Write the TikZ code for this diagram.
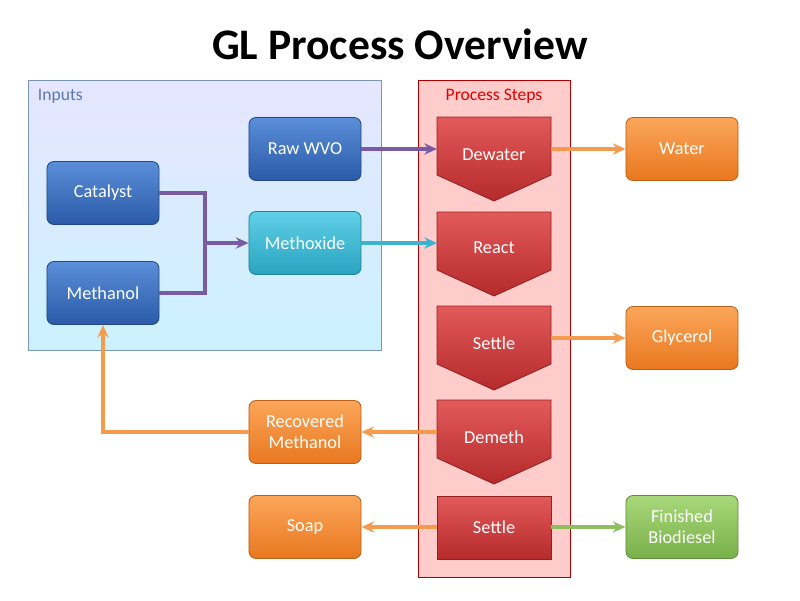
\documentclass[tikz,border=0pt]{standalone}
\usepackage{fontspec}
\setmainfont{Carlito}
\usetikzlibrary{arrows.meta}
\definecolor{bluetop}{HTML}{5B8FD9}
\definecolor{bluebot}{HTML}{2A5AA8}
\definecolor{cyantop}{HTML}{5FD0E6}
\definecolor{cyanbot}{HTML}{2AA3C0}
\definecolor{orgtop}{HTML}{FBA65A}
\definecolor{orgbot}{HTML}{E9781F}
\definecolor{grntop}{HTML}{A8D87A}
\definecolor{grnbot}{HTML}{78B04A}
\definecolor{redtop}{HTML}{E35A5A}
\definecolor{redbot}{HTML}{B52A2A}
\definecolor{purp}{HTML}{7A5BA3}
\definecolor{cyanl}{HTML}{3DB2CC}
\definecolor{orgl}{HTML}{F49B4E}
\definecolor{grnl}{HTML}{8DBF5E}
\definecolor{slate}{HTML}{5A7AA8}
\tikzset{
 box/.style={rounded corners=5pt,draw=#1bot!80!black,line width=0.6pt,top color=#1top,bottom color=#1bot,
   text=white,font=\fontsize{13}{15}\selectfont,align=center,minimum width=2.8cm,minimum height=1.575cm,inner sep=1pt},
 chev/.style={draw=redbot!80!black,line width=0.6pt,top color=redtop,bottom color=redbot},
 lbl/.style={text=white,font=\fontsize{13}{15}\selectfont,minimum width=2.85cm,minimum height=1.2cm},
 conn/.style={line width=2.2pt,-{Stealth[length=9pt,width=8pt]},#1},
}
\begin{document}
\begin{tikzpicture}[x=0.025cm,y=-0.025cm]
\useasboundingbox (0,0) rectangle (800,600);
\node[font=\bfseries\fontsize{31}{34}\selectfont] (title) at (400,44) {GL Process Overview};
% containers
\draw[draw=slate!80,top color=blue!10,bottom color=blue!25!cyan!20] (28,80) rectangle (381,350);
\node[anchor=west,text=slate,font=\fontsize{12.5}{14}\selectfont] (inp) at (33,96) {Inputs};
\draw[draw=red!70!black,fill=red!20] (418,80) rectangle (570,577);
\node[text=red!90!black,font=\fontsize{12.5}{14}\selectfont] (ps) at (494,96) {Process Steps};
% input nodes
\node[box=blue] (wvo) at (305,149) {Raw WVO};
\node[box=blue] (cat) at (103,193) {Catalyst};
\node[box=blue] (meth) at (103,293) {Methanol};
\node[box=cyan] (mox) at (305,243) {Methoxide};
% chevrons
\foreach \t in {117,212,306,400}{
 \shade[chev] (437,\t) -- (551,\t) -- (551,\t+58) -- (494,\t+84) -- (437,\t+58) -- cycle;
}
\shade[chev] (437,496) rectangle (551,559);
\node[lbl] (dew) at (494,155) {Dewater};
\node[lbl] (rea) at (494,248) {React};
\node[lbl] (set) at (494,343) {Settle};
\node[lbl] (dem) at (494,437) {Demeth};
\node[lbl] (set2) at (494,527) {Settle};
% outputs
\node[box=org] (wat) at (682,149) {Water};
\node[box=org] (gly) at (682,338) {Glycerol};
\node[box=org] (rec) at (305,432) {Recovered\\Methanol};
\node[box=org] (soap) at (305,527) {Soap};
\node[box=grn] (bio) at (682,527) {Finished\\Biodiesel};
% connectors
\coordinate (j) at (205,243);
\draw[line width=2.2pt,purp] (cat.east) -| (j);
\draw[line width=2.2pt,purp] (meth.east) -| (j);
\draw[conn=purp] (j) -- (mox.west);
\draw[conn=purp] (wvo.east) -- (437,149);
\draw[conn=cyanl] (mox.east) -- (437,243);
\draw[conn=orgl] (551,149) -- (wat.west);
\draw[conn=orgl] (551,338) -- (gly.west);
\draw[conn=orgl] (437,432) -- (rec.east);
\draw[conn=orgl] (rec.west) -| (meth.south);
\draw[conn=orgl] (437,527) -- (soap.east);
\draw[conn=grnl] (551,527) -- (bio.west);
\end{tikzpicture}
\end{document}
